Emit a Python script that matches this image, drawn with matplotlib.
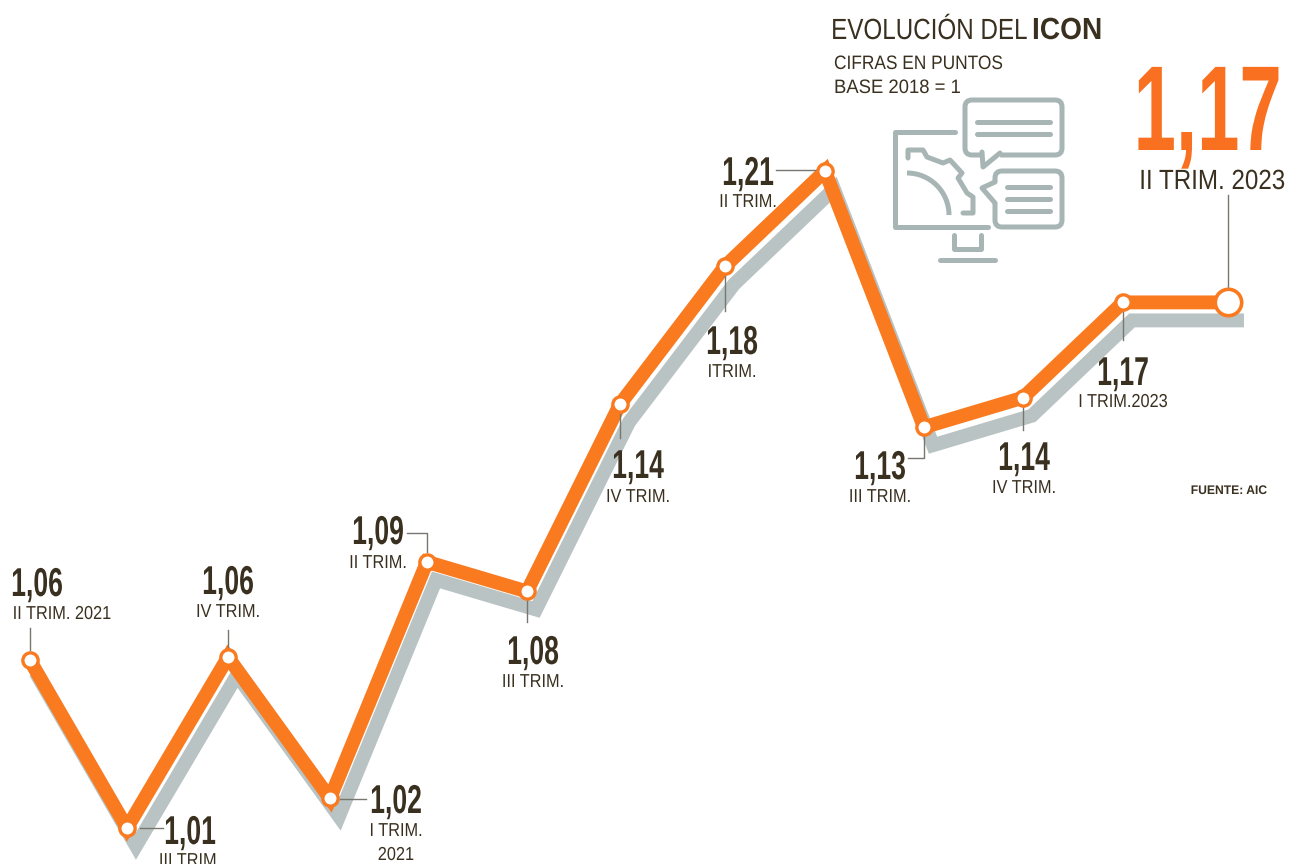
import numpy as np
import matplotlib
matplotlib.use("Agg")
import matplotlib.pyplot as plt
import matplotlib.patheffects as pe
from matplotlib.patches import FancyBboxPatch, Arc
from matplotlib.transforms import Affine2D, offset_copy

# values, the quarters are not quite evenly spaced in it
quarter_pos = [0.00, 0.97, 1.98, 3.00, 3.97, 4.97, 5.90, 6.95, 7.95, 8.94, 9.93, 10.93, 11.98]
values = [1.061, 1.010, 1.062, 1.019, 1.091, 1.082, 1.139, 1.181, 1.210, 1.132, 1.141, 1.170, 1.170]
value_labels = ["1,06", "1,01", "1,06", "1,02", "1,09", "1,08", "1,14", "1,18", "1,21", "1,13", "1,14", "1,17"]
trim_labels = ["II TRIM. 2021", "III TRIM.", "IV TRIM.", "I TRIM.", "II TRIM.", "III TRIM.",
               "IV TRIM.", "ITRIM.", "II TRIM.", "III TRIM.", "IV TRIM.", "I TRIM.2023"]
last_value = "1,17"
last_label = "II TRIM. 2023"

ORANGE = "#f97a1f"
SHADOW = "#b9c3c3"
DARK = "#3a3020"
ICON = "#a8b5b5"
LEADER = "#77776f"

# label places in pixels: value x, value baseline, label x, label baseline
label_pos = [(37, 596, 62, 619), (190, 844, 190, 866), (228, 594, 228, 617), (396, 813, 396, 836),
             (378, 544, 378, 568), (533, 664, 533, 687), (638, 478, 638, 502), (732, 354, 732, 377),
             (748, 185, 748, 207), (880, 479, 880, 502), (1024, 470, 1024, 493), (1123, 385, 1123, 407)]
leaders = [[(30, 650), (30, 628)], [(140, 828), (163, 828)], [(228, 648), (228, 630)],
           [(340, 799), (366, 799)], [(427, 552), (427, 533), (407, 533)], [(527, 600), (527, 622)],
           [(620, 412), (620, 438)], [(725, 275), (725, 311)], [(816, 170), (776, 170)],
           [(924, 436), (924, 458), (908, 458)], [(1023, 405), (1023, 430)], [(1123, 310), (1123, 340)],
           [(1228, 290), (1228, 195)]]


class Squeeze(pe.AbstractPathEffect):
    "narrow the glyphs around a pixel x, the reference font is condensed"

    def __init__(self, cx, sx):
        super().__init__()
        self.cx = cx
        self.sx = sx

    def draw_path(self, renderer, gc, tpath, affine, rgbFace=None):
        squeeze = Affine2D().translate(-self.cx, 0).scale(self.sx, 1).translate(self.cx, 0)
        renderer.draw_path(gc, tpath, affine + squeeze, rgbFace)


fig = plt.figure(figsize=(12.94, 8.64), dpi=100)
ax = fig.add_axes([0, 0, 1, 1])
ax.set_xlim(-0.30, 12.64)
ax.set_ylim(1.21 - 693 / 3285, 1.21 + 171 / 3285)
ax.axis("off")

shadow = offset_copy(ax.transData, fig=fig, x=9, y=-18, units="dots")
ax.plot(quarter_pos, values, color=SHADOW, lw=10, transform=shadow, solid_joinstyle="miter", solid_capstyle="projecting")
ax.plot(quarter_pos, values, color=ORANGE, lw=10, solid_joinstyle="miter", solid_capstyle="butt", zorder=3)

# overlay in pixels for the labels and the icon
ov = fig.add_axes([0, 0, 1, 1], zorder=2)
ov.set_xlim(0, 1294)
ov.set_ylim(864, 0)
ov.axis("off")
ov.patch.set_alpha(0)

for line in leaders:
    xs, ys = zip(*line)
    ov.plot(xs, ys, color=LEADER, lw=1)

# markers go above the leaders
mk = fig.add_axes([0, 0, 1, 1], zorder=3)
mk.set_xlim(ax.get_xlim())
mk.set_ylim(ax.get_ylim())
mk.axis("off")
mk.patch.set_alpha(0)
mk.plot(quarter_pos[:-1], values[:-1], "o", ms=11, mfc="white", mec=ORANGE, mew=2.4, ls="none")
mk.plot(quarter_pos[-1:], values[-1:], "o", ms=19, mfc="white", mec=ORANGE, mew=2.6, ls="none")


def put(px, py, s, size, sx, color=DARK, weight="normal", ha="center"):
    ov.text(px, py, s, fontsize=size, color=color, fontweight=weight, ha=ha, va="baseline",
            family="Liberation Sans", path_effects=[Squeeze(px, sx)])


for (vx, vy, tx, ty), v, t in zip(label_pos, value_labels, trim_labels):
    put(vx, vy, v, 29, 0.66, weight="bold")
    put(tx, ty, t, 13.5, 0.87)
put(396, 860, "2021", 13.5, 0.87)

put(1282, 150, last_value, 87, 0.63, color="#f97020", weight="bold", ha="right")
put(1212, 189, last_label, 20, 0.87)

put(1027, 39, "EVOLUCIÓN DEL", 21, 0.83, ha="right")
put(1032, 39, "ICON", 22, 0.92, weight="bold", ha="left")
put(834, 69, "CIFRAS EN PUNTOS", 14, 0.89, ha="left")
put(834, 93, "BASE 2018 = 1", 14, 0.95, ha="left")
put(1229, 494, "FUENTE: AIC", 9, 0.97, weight="bold")

# icon
icon = dict(color=ICON, lw=3.6, solid_capstyle="round", solid_joinstyle="round")
for (x0, y0, w, h) in [(965, 100, 97, 55), (995, 171, 67, 56)]:
    ov.add_patch(FancyBboxPatch((x0 + 7, y0 + 7), w - 14, h - 14, boxstyle="round,pad=7", fc="white", ec=ICON, lw=3.6))
ov.plot([986, 997], [155, 155], color="white", lw=4.5)
ov.plot([982, 983, 1000], [152, 167, 153], **icon)
ov.plot([995, 995], [185, 200], color="white", lw=4.5)
ov.plot([995, 982, 995], [182, 188, 203], **icon)
for yy in (122, 134):
    ov.plot([977, 1050], [yy, yy], **icon)
for yy in (187, 199, 211):
    ov.plot([1007, 1050], [yy, yy], **icon)
ov.plot([955, 895, 895, 988], [132, 132, 227, 227], **icon)
ov.plot([954, 954, 981, 981], [235, 249, 249, 235], **icon)
ov.plot([940, 995], [260, 260], **icon)
ov.plot([908, 908, 923, 927, 943, 950, 962, 958, 967, 973, 973, 963],
        [158, 150, 150, 157, 163, 160, 173, 178, 193, 197, 213, 213], **icon)
ov.add_patch(Arc((907, 215), 84, 84, theta1=270, theta2=360, ec=ICON, lw=3.6))

fig.savefig("out.png", dpi=100, facecolor="white")
